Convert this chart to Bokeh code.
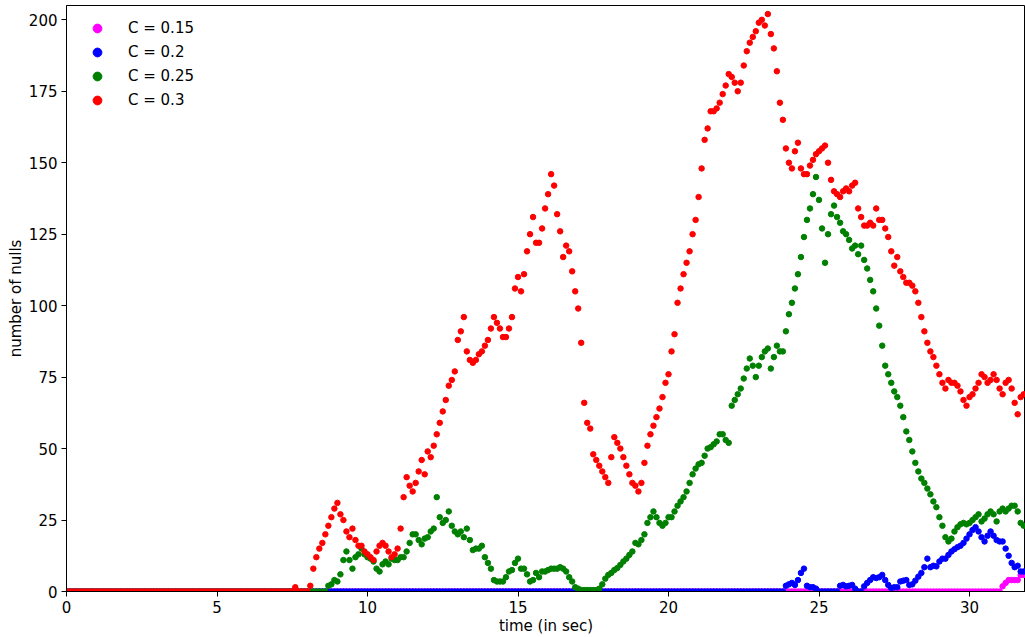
from bokeh.plotting import figure
from bokeh.models import Range1d, SingleIntervalTicker
from bokeh.embed import file_html
from bokeh.resources import INLINE

# sampling interval of the recordings (seconds)
STEP = 0.1

# number of nulls per sample
c015 = [0] * 311 + [1.8, 3, 4, 4, 4, 4, 5.8, 5.8]

c020 = [0] * 239 + [
    2, 2.5, 3, 2.3, 4, 6.5, 8, 2, 1.5, 1.5,
    1, 0, 0, 0, 0, 0, 0, 0, 2, 2.3,
    1.8, 2, 2.3, 1, 0, 0, 1.8, 3, 4, 5,
    4.7, 5, 5.8, 4, 2.3, 1.2, 1.5, 1.5, 3.5, 3.8,
    4, 2.3, 2.5, 3.8, 5.2, 6.5, 8.5, 11.5, 8.5, 9,
    8.8, 10.5, 11.5, 11.5, 12.8, 14, 14.8, 15.5, 16, 17,
    18.5, 20, 21.5, 22.5, 21, 19, 17.5, 19.5, 21, 19.5,
    18, 17.5, 17.5, 15, 12.5, 10, 8.5, 9, 7, 7]

c025 = [0] * 87 + [
    2, 2.5, 4, 3.5, 6, 11, 14, 11, 8, 12,
    13, 15, 13, 12, 11.5, 10.5, 8, 7, 9.5, 10.5,
    9.5, 11.5, 11, 11, 12, 12, 14, 17, 20, 20,
    18, 16.5, 18.5, 19, 21, 22, 33, 26, 24, 25,
    28, 23, 21, 20, 21, 19, 22, 18, 14.5, 15,
    15, 16, 12, 10, 8, 4, 3.5, 3.5, 3.5, 5,
    7, 7.5, 10, 11.5, 8, 8, 6, 3.5, 4, 6.5,
    5, 7, 7, 7.5, 8, 8, 8, 8.5, 8, 7,
    5, 3.5, 1.5, 1, 0.5, 0.5, 0.5, 0.5, 0.5, 0.5,
    1, 2.5, 4.5, 5.8, 6.5, 7.5, 8.2, 9.3, 10.5, 11.5,
    12.8, 14, 17, 16.5, 18, 20, 24, 26, 28, 26,
    24, 23, 24, 26, 26, 28, 30, 31.5, 33, 35,
    38, 41, 43, 44.5, 45, 47.5, 50, 50.5, 51.5, 52.5,
    55, 55, 53, 52, 65, 67, 69, 71, 74.5, 78, 81.5,
    79, 75, 79, 82, 84, 85, 78, 82, 86, 84,
    84, 91, 97, 101, 106, 111, 117, 124, 130, 134,
    139, 145, 137, 127, 115, 125, 132, 135, 131, 129,
    126, 125, 123, 120, 121, 118, 121, 116, 113, 109,
    105, 99, 93, 86, 79, 76, 73, 70, 68, 65,
    61, 56, 53, 49, 45, 42, 39.5, 38, 36, 34,
    31.5, 29.5, 26, 23, 19, 17.5, 18.5, 21, 22.5, 23.5,
    24, 23.5, 24, 25, 26, 27, 24.5, 25.5, 27, 28,
    27, 24.5, 28, 29, 28, 29, 30, 30, 28, 24, 23]

c030 = [0] * 76 + [
    1.5, 0, 0, 0, 0, 2, 8, 12, 15, 17,
    20, 23, 26, 29, 31, 27, 25, 21, 19, 22,
    18, 16, 16, 14, 13, 12, 11, 14, 16, 17,
    16, 14, 12, 13, 15, 22, 33, 40, 37, 35,
    38, 42, 46, 41, 49, 47, 51, 55, 59, 63,
    67, 72, 74, 77, 88, 91, 96, 84, 81, 80, 81,
    83, 84, 86, 88, 92, 96, 94, 92, 89, 89,
    92, 96, 106, 110, 105, 111, 119, 125, 131, 122,
    122, 127, 134, 139, 146, 142, 132, 126, 117, 121,
    119, 112, 105, 99, 87, 66, 59, 57, 48, 46,
    44, 42, 40, 38, 47, 54, 52, 50, 47, 44,
    41, 38, 37, 35, 38, 45, 51, 55, 58, 61,
    64, 68, 73, 76, 84, 90, 101, 106, 111, 115,
    119, 125, 130, 138, 148, 158, 162, 168, 168, 169,
    171, 174, 177, 181, 180, 178, 175, 178, 184, 189, 192,
    194, 196, 199, 200, 198, 202, 195, 190, 182, 171,
    165, 155, 150, 148, 154, 157, 148, 146, 146, 149,
    151, 153, 154, 155, 156, 150, 144, 140, 139, 138,
    140, 141, 140, 142, 143, 134, 131, 128, 128, 129,
    128, 134, 130, 130, 127, 124, 119, 114, 117, 112,
    110, 108, 108, 107, 105, 101, 96, 91, 87, 84,
    82, 79, 76, 73, 71, 74, 73, 73, 72, 70,
    67, 65, 68, 69, 71, 73, 76, 75, 73, 74,
    76, 74, 71, 69, 73, 74, 71, 66, 62, 68, 69]

labels = ["C = 0.15", "C = 0.2", "C = 0.25", "C = 0.3"]
colors = ["#ff00ff", "#0000ff", "#008000", "#ff0000"]
values = [c015, c020, c025, c030]

p = figure(width=1025, height=637, output_backend="svg", toolbar_location=None,
           x_range=Range1d(0, 31.86), y_range=Range1d(0, 205),
           min_border_left=66, min_border_right=0, min_border_top=5,
           min_border_bottom=0,
           x_axis_label="time (in sec)", y_axis_label="number of nulls")
p.background_fill_color = "white"
p.border_fill_color = "white"

for lab, col, vals in zip(labels, colors, values):
    ts = [round(i * STEP, 1) for i in range(len(vals))]
    p.scatter(ts, vals, size=5.5, color=col, legend_label=lab)

p.grid.visible = False
p.outline_line_color = "black"
p.outline_line_alpha = 1
p.outline_line_width = 1

p.xaxis.ticker = SingleIntervalTicker(interval=5)
p.yaxis.ticker = SingleIntervalTicker(interval=25)
for ax in p.axis:
    ax.minor_tick_line_color = None
    ax.major_tick_out = 5
    ax.major_tick_in = 0
    ax.major_tick_line_color = "black"
    ax.axis_line_color = "black"
    ax.major_label_standoff = 4
    ax.major_label_text_font = "DejaVu Sans"
    ax.major_label_text_font_size = "15px"
    ax.major_label_text_color = "black"
    ax.axis_label_text_font = "DejaVu Sans"
    ax.axis_label_text_font_size = "15px"
    ax.axis_label_text_font_style = "normal"
    ax.axis_label_text_color = "black"
    ax.axis_label_standoff = 1

lg = p.legend[0]
lg.location = "top_left"
lg.margin = 12
lg.padding = 0
lg.border_line_color = None
lg.background_fill_alpha = 0
lg.label_text_font = "DejaVu Sans"
lg.label_text_font_size = "15px"
lg.label_text_color = "black"
lg.glyph_width = 38
lg.glyph_height = 22
lg.label_height = 22
lg.label_standoff = 12
lg.spacing = 2

open("out.html", "w").write(file_html(p, INLINE))
